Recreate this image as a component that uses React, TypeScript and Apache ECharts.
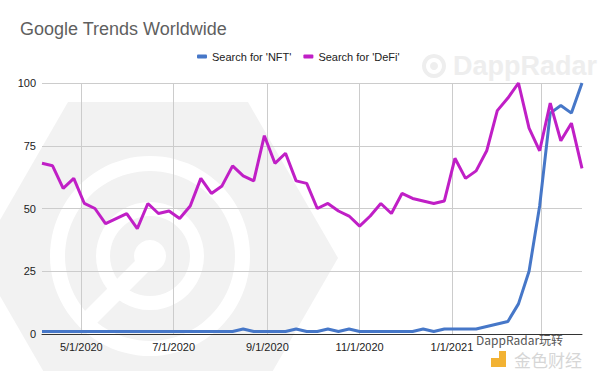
import React, { useEffect, useRef } from 'react';
import * as echarts from 'echarts';

const weeks = [
  '2020-04-05', '2020-04-12', '2020-04-19', '2020-04-26',
  '2020-05-03', '2020-05-10', '2020-05-17', '2020-05-24', '2020-05-31',
  '2020-06-07', '2020-06-14', '2020-06-21', '2020-06-28',
  '2020-07-05', '2020-07-12', '2020-07-19', '2020-07-26',
  '2020-08-02', '2020-08-09', '2020-08-16', '2020-08-23', '2020-08-30',
  '2020-09-06', '2020-09-13', '2020-09-20', '2020-09-27',
  '2020-10-04', '2020-10-11', '2020-10-18', '2020-10-25',
  '2020-11-01', '2020-11-08', '2020-11-15', '2020-11-22', '2020-11-29',
  '2020-12-06', '2020-12-13', '2020-12-20', '2020-12-27',
  '2021-01-03', '2021-01-10', '2021-01-17', '2021-01-24', '2021-01-31',
  '2021-02-07', '2021-02-14', '2021-02-21', '2021-02-28',
  '2021-03-07', '2021-03-14', '2021-03-21', '2021-03-28',
];

const nftSearch = [
  1, 1, 1, 1, 1, 1, 1, 1, 1, 1, 1, 1, 1, 1, 1, 1, 1, 1, 1, 2,
  1, 1, 1, 1, 2, 1, 1, 2, 1, 2, 1, 1, 1, 1, 1, 1, 2, 1, 2, 2,
  2, 2, 3, 4, 5, 12, 25, 51, 88, 91, 88, 100,
];

const defiSearch = [
  68, 67, 58, 62, 52, 50, 44, 46, 48, 42, 52, 48, 49, 46, 51, 62,
  56, 59, 67, 63, 61, 79, 68, 72, 61, 60, 50, 52, 49, 47, 43, 47,
  52, 48, 56, 54, 53, 52, 53, 70, 62, 65, 73, 89, 94, 100, 82, 73,
  92, 77, 84, 66,
];

// gridline dates (every two months); the last one's label is hidden under the watermark
const xTickDates = ['2020-05-01', '2020-07-01', '2020-09-01', '2020-11-01', '2021-01-01', '2021-03-01'];
const xLabelDates = ['2020-05-01', '2020-07-01', '2020-09-01', '2020-11-01', '2021-01-01'];
const seriesNames = ["Search for 'NFT'", "Search for 'DeFi'"];
const chartTitle = 'Google Trends Worldwide';
const yMin = 0;
const yMax = 100;
const yStep = 25;

const FONT = '"Liberation Sans", Arial, sans-serif';

function parts(s: string): number[] {
  return s.split('-').map(Number);
}
function dayOffset(s: string): number {
  const [y, m, d] = parts(s);
  const [y0, m0, d0] = parts(weeks[0]);
  return Math.round((Date.UTC(y, m - 1, d) - Date.UTC(y0, m0 - 1, d0)) / 86400000);
}
function offsetLabel(v: number): string {
  const [y0, m0, d0] = parts(weeks[0]);
  const dt = new Date(Date.UTC(y0, m0 - 1, d0 + Math.round(v)));
  return `${dt.getUTCMonth() + 1}/${dt.getUTCDate()}/${dt.getUTCFullYear()}`;
}

export default function App() {
  const ref = useRef<HTMLDivElement>(null);

  useEffect(() => {
    if (!ref.current) return;
    const chart = echarts.init(ref.current, null, { renderer: 'svg' });
    const xs = weeks.map(dayOffset);
    const ticks = xTickDates.map(dayOffset);
    const labelTicks = xLabelDates.map(dayOffset);

    const cx = 150;
    const cy = 256;
    const bg = '#f2f2f2';
    const hexR = 180;
    const hexC = { x: 158, y: 258 };
    const hexPts: number[][] = [];
    for (let k = 0; k < 6; k++) {
      const a = (Math.PI / 3) * k;
      hexPts.push([hexC.x + hexR * Math.cos(a), hexC.y - hexR * Math.sin(a)]);
    }

    chart.setOption({
      animation: false,
      backgroundColor: '#ffffff',
      title: {
        text: chartTitle,
        left: 20,
        top: 20,
        padding: 0,
        textStyle: { fontSize: 18, fontWeight: 'normal', color: '#5f5f5f', fontFamily: FONT },
      },
      legend: {
        left: 192,
        top: 46,
        icon: 'roundRect',
        itemWidth: 10,
        itemHeight: 4,
        itemGap: 12,
        textStyle: { fontSize: 11, color: '#222', fontFamily: FONT },
        data: seriesNames,
      },
      grid: { left: 42, right: 18, top: 83, bottom: 37 },
      xAxis: {
        type: 'value',
        min: xs[0],
        max: xs[xs.length - 1],
        axisLine: { show: true, onZero: false, lineStyle: { color: '#333', width: 1 } },
        axisTick: { show: false, customValues: ticks },
        axisLabel: {
          customValues: labelTicks,
          fontSize: 11,
          color: '#222',
          fontFamily: FONT,
          margin: 7,
          formatter: (v: number) => offsetLabel(v),
        },
        splitLine: { show: true, lineStyle: { color: '#cccccc', width: 1 } },
      },
      yAxis: {
        type: 'value',
        min: yMin,
        max: yMax,
        interval: yStep,
        axisLine: { show: false },
        axisTick: { show: false },
        axisLabel: { fontSize: 11, color: '#222', fontFamily: FONT, margin: 6 },
        splitLine: { lineStyle: { color: '#cccccc', width: 1 } },
      },
      series: [
        {
          name: seriesNames[0],
          type: 'line',
          data: xs.map((x, i) => [x, nftSearch[i]]),
          showSymbol: false,
          symbol: 'none',
          clip: false,
          color: '#4677c8',
          lineStyle: { width: 3, color: '#4677c8' },
          z: 3,
        },
        {
          name: seriesNames[1],
          type: 'line',
          data: xs.map((x, i) => [x, defiSearch[i]]),
          showSymbol: false,
          symbol: 'none',
          clip: false,
          color: '#c01fc6',
          lineStyle: { width: 3, color: '#c01fc6' },
          z: 4,
        },
      ],
      graphic: [
        { type: 'polygon', z: -10, silent: true, shape: { points: hexPts }, style: { fill: bg } },
        { type: 'ring', z: -9, silent: true, shape: { cx, cy, r: 100, r0: 85 }, style: { fill: '#ffffff' } },
        { type: 'ring', z: -9, silent: true, shape: { cx, cy, r: 54, r0: 40 }, style: { fill: '#ffffff' } },
        { type: 'circle', z: -9, silent: true, shape: { cx, cy, r: 16 }, style: { fill: '#ffffff' } },
        {
          type: 'polygon', z: -9, silent: true,
          shape: { points: [[cx - 8, cy - 2], [cx + 4, cy + 10], [cx - 62, cy + 76], [cx - 74, cy + 64]] },
          style: { fill: '#ffffff' },
        },
        { type: 'ring', z: -8, silent: true, shape: { cx: 434, cy: 66, r: 12, r0: 8 }, style: { fill: '#eeeeee' } },
        { type: 'circle', z: -8, silent: true, shape: { cx: 434, cy: 66, r: 4 }, style: { fill: '#eeeeee' } },
        {
          type: 'text', z: -8, silent: true, x: 453, y: 52,
          style: { text: 'DappRadar', fontSize: 27, fontWeight: 'bold', fontFamily: FONT, fill: '#eeeeee' },
        },
        {
          type: 'text', z: 100, silent: true, x: 476, y: 332,
          style: {
            text: 'DappRadar玩转', fontSize: 12, fontFamily: '"Noto Sans CJK SC", ' + FONT, fill: '#555',
            lineHeight: 15,
          },
        },
        { type: 'rect', z: 100, silent: true, shape: { x: 491, y: 358, width: 15, height: 9 }, style: { fill: '#f2b233' } },
        { type: 'rect', z: 100, silent: true, shape: { x: 499, y: 351, width: 7, height: 7 }, style: { fill: '#f2b233' } },
        {
          type: 'text', z: 100, silent: true, x: 514, y: 350,
          style: {
            text: '金色财经', fontSize: 17, lineHeight: 18, fontFamily: '"Noto Sans CJK SC", sans-serif', fill: '#d6d6d6',
          },
        },
      ],
    });
    return () => chart.dispose();
  }, []);

  return <div ref={ref} style={{ width: 600, height: 371, position: 'absolute', left: 0, top: 0 }} />;
}
